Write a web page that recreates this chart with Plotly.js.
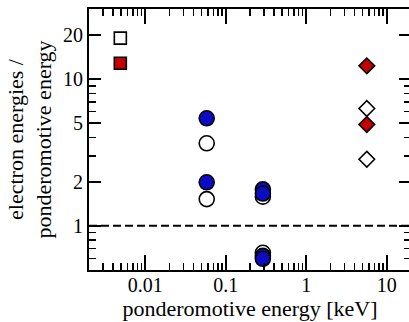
<!DOCTYPE html>
<html>
<head>
<meta charset="utf-8">
<script src="https://cdn.plot.ly/plotly-3.0.1.min.js"></script>
<style>
html,body{margin:0;padding:0;overflow:hidden;background:#fff;}
#chart{width:411px;height:322px;}
</style>
</head>
<body>
<div id="chart"></div>
<script>
// Data
const squareX = [0.0049];
const squareOpenY = [19];
const squareFilledY = [12.8];

const circleOpenX = [0.058, 0.058, 0.289, 0.289];
const circleOpenY = [3.65, 1.52, 1.58, 0.655];
const circleFilledX = [0.058, 0.058, 0.289, 0.289, 0.289, 0.289];
const circleFilledY = [5.4, 1.98, 1.77, 1.66, 0.624, 0.596];

const diamondX = [5.65, 5.65];
const diamondOpenY = [6.3, 2.84];
const diamondFilledY = [12.3, 4.9];

const xTickVals = [0.01, 0.1, 1, 10];
const xTickText = ["0.01", "0.1", "1", "10"];
const xMinorVals = [0.003,0.004,0.005,0.006,0.007,0.008,0.009,
  0.02,0.03,0.04,0.05,0.06,0.07,0.08,0.09,
  0.2,0.3,0.4,0.5,0.6,0.7,0.8,0.9,
  2,3,4,5,6,7,8,9];
const yTickVals = [1, 2, 5, 10, 20];
const yTickText = ["1", "2", "5", "10", "20"];
const yMinorVals = [0.6,0.7,0.8,0.9,3,4,6,7,8,9];

const blue = "#0c0cc4";
const red = "#c40000";
const lineSpec = {color: "#000", width: 1.6};

const traces = [
  {x: squareX, y: squareOpenY, type: "scatter", mode: "markers",
   marker: {symbol: "square", size: 12, color: "#fff", line: lineSpec}},
  {x: squareX, y: squareFilledY, type: "scatter", mode: "markers",
   marker: {symbol: "square", size: 12, color: red, line: lineSpec}},
  {x: circleOpenX, y: circleOpenY, type: "scatter", mode: "markers",
   marker: {symbol: "circle", size: 15, color: "#fff", line: lineSpec}},
  {x: circleFilledX, y: circleFilledY, type: "scatter", mode: "markers",
   marker: {symbol: "circle", size: 15, color: blue, line: lineSpec}},
  {x: diamondX, y: diamondOpenY, type: "scatter", mode: "markers",
   marker: {symbol: "diamond", size: 12, color: "#fff", line: lineSpec}},
  {x: diamondX, y: diamondFilledY, type: "scatter", mode: "markers",
   marker: {symbol: "diamond", size: 12, color: red, line: lineSpec}}
];

const fontFam = "Liberation Serif";

const layout = {
  width: 411, height: 322,
  margin: {l: 89, r: 0, t: 9, b: 52},
  paper_bgcolor: "#fff", plot_bgcolor: "#fff",
  showlegend: false,
  font: {family: fontFam, color: "#000", size: 20},
  xaxis: {
    type: "log",
    range: [Math.log10(0.002), Math.log10(20)],
    tickmode: "array", tickvals: xTickVals, ticktext: xTickText,
    ticks: "inside", ticklen: 15, tickwidth: 2, tickcolor: "#000",
    minor: {tickmode: "array", tickvals: xMinorVals, ticks: "inside", ticklen: 7, tickwidth: 1.5, tickcolor: "#000"},
    showline: true, linecolor: "#000", linewidth: 2, mirror: "ticks",
    showgrid: false, zeroline: false,
    ticklabelstandoff: -4,
    tickfont: {size: 20, family: fontFam, color: "#000"},
    title: {text: "ponderomotive energy [keV]", font: {size: 22, family: fontFam, color: "#000"}, standoff: 0}
  },
  yaxis: {
    type: "log",
    range: [Math.log10(0.5), Math.log10(30)],
    tickmode: "array", tickvals: yTickVals, ticktext: yTickText,
    ticks: "inside", ticklen: 12, tickwidth: 2, tickcolor: "#000",
    minor: {tickmode: "array", tickvals: yMinorVals, ticks: "inside", ticklen: 7, tickwidth: 1.5, tickcolor: "#000"},
    showline: true, linecolor: "#000", linewidth: 2, mirror: "ticks",
    showgrid: false, zeroline: false,
    tickfont: {size: 20, family: fontFam, color: "#000"},
    title: {text: "electron energies /<br>ponderomotive energy", font: {size: 22, family: fontFam, color: "#000"}, standoff: 5}
  },
  shapes: [
    {type: "line", xref: "paper", yref: "y", x0: 0, x1: 1, y0: 1, y1: 1,
     line: {color: "#000", width: 2, dash: "8px,4px"}, layer: "below"}
  ]
};

Plotly.newPlot("chart", traces, layout, {displayModeBar: false, staticPlot: true});
</script>
</body>
</html>
